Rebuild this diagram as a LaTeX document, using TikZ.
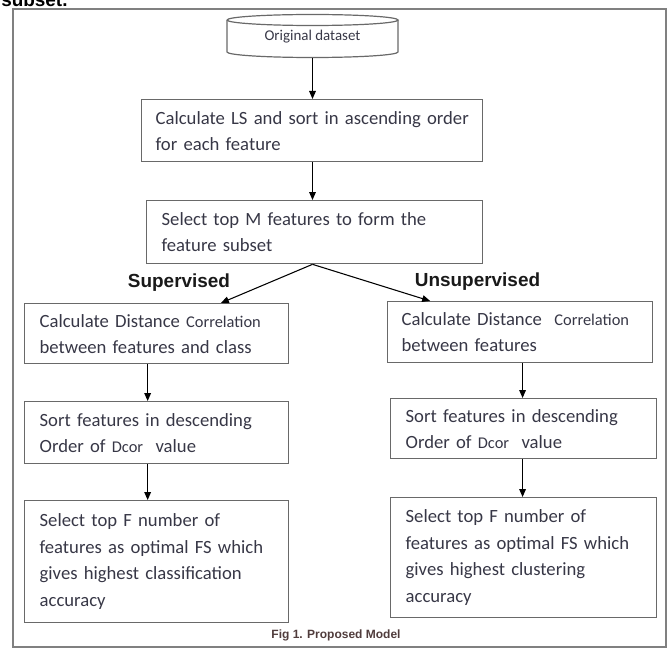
\documentclass[tikz,border=0pt]{standalone}
\usepackage{fontspec}
\setmainfont{Carlito}
\newfontfamily\arialf{Liberation Sans}
\usetikzlibrary{arrows.meta,calc}
\definecolor{boxgray}{RGB}{105,105,105}
\definecolor{framegray}{RGB}{128,128,128}
\definecolor{txt}{RGB}{55,55,70}
\definecolor{captxt}{RGB}{80,60,60}
\newcommand{\boxfont}{\fontsize{14pt}{19.5pt}\selectfont}
\newcommand{\smallcor}[1]{{\fontsize{12.3pt}{13pt}\selectfont #1}}
\tikzset{
  box/.style={draw=boxgray, line width=1pt, anchor=north west, align=left,
    inner ysep=0pt, font=\boxfont, text=txt},
  flow/.style={draw=black, line width=0.8pt, -{Triangle[length=6pt,width=5pt]}},
  branch/.style={font=\arialf\bfseries\fontsize{14.2pt}{16pt}\selectfont, text=black!90},
}
\begin{document}
\begin{tikzpicture}[x=0.75pt,y=-0.75pt]
\useasboundingbox (0,0) rectangle (670,649);
\clip (0,0) rectangle (670,649);
% partial page text above the frame
\node[anchor=base west, inner sep=0pt, font=\arialf\bfseries\fontsize{14.2pt}{16pt}\selectfont] (pagetxt) at (1,7) {subset.};
% outer frame
\draw[framegray, line width=1.5pt] (12.5,9.5) rectangle (665.5,647);
% cylinder
\node[minimum width=128.25pt, minimum height=31.875pt, inner sep=0pt,
  font=\fontsize{11.2pt}{13pt}\selectfont, text=txt] (cyl) at (312.5,36.25) {\raisebox{-2pt}{Original dataset}};
\draw[boxgray, line width=0.9pt] (227,20) arc[start angle=180, end angle=-180, x radius=85.5, y radius=5.5];
\draw[boxgray, line width=0.9pt] (227,20) -- (227,52) arc[start angle=180, end angle=0, x radius=85.5, y radius=5.5] -- (398,20);
% boxes
\node[box, minimum width=255.75pt, minimum height=46.5pt, inner xsep=10.5pt, text width=234.75pt] (b1) at (141,99)
  {\mbox{Calculate LS and sort in ascending order}\\for each feature};
\node[box, minimum width=252pt, minimum height=47.25pt, inner xsep=11.25pt, text width=229.5pt] (b2) at (146,200)
  {\mbox{Select top M features to form the}\\feature subset};
\node[box, minimum width=198pt, minimum height=45pt, inner xsep=11.25pt, text width=175.5pt] (l3) at (24,303)
  {\mbox{Calculate Distance \smallcor{Correlation}}\\between features and class};
\node[box, minimum width=198.75pt, minimum height=45.75pt, inner xsep=10.5pt, text width=177.75pt] (r3) at (387,301)
  {\mbox{Calculate Distance \ \smallcor{Correlation}}\\between features};
\node[box, minimum width=198pt, minimum height=46.5pt, inner xsep=11.25pt, text width=175.5pt] (l4) at (24,401)
  {Sort features in descending\\Order of \smallcor{Dcor} \ value};
\node[box, minimum width=199.5pt, minimum height=45pt, inner xsep=11.25pt, text width=177pt] (r4) at (390,398)
  {Sort features in descending\\Order of \smallcor{Dcor} \ value};
\node[box, minimum width=198pt, minimum height=91.5pt, inner xsep=11.25pt, text width=175.5pt,
  font=\fontsize{14pt}{20pt}\selectfont] (l5) at (24,500)
  {Select top F number of\\\mbox{features as optimal FS which}\\\mbox{gives highest classification}\\accuracy};
\node[box, minimum width=199.5pt, minimum height=90pt, inner xsep=11.25pt, text width=177pt,
  font=\fontsize{14pt}{20pt}\selectfont] (r5) at (390,497)
  {Select top F number of\\\mbox{features as optimal FS which}\\gives highest clustering\\accuracy};
% branch labels
\node[branch] (sup) at (179,283) {Supervised};
\node[branch] (unsup) at (477.5,282) {Unsupervised};
% caption
\node[font=\arialf\bfseries\fontsize{9pt}{11pt}\selectfont, text=captxt] (cap) at (336,635) {Fig 1. Proposed Model};
% connectors
\draw[flow] (cyl.south) -- (cyl.south |- b1.north);
\draw[flow] (cyl.south |- b1.south) -- (cyl.south |- b2.north);
\draw[flow] (cyl.south |- b2.south) -- ($(l3.north west)!0.742!(l3.north east)$);
\draw[flow] (cyl.south |- b2.south) -- ($(r3.north west)!0.162!(r3.north east)$);
\coordinate (lc) at ($(l3.south west)!0.466!(l3.south east)$);
\coordinate (rc) at ($(r3.south west)!0.509!(r3.south east)$);
\draw[flow] (lc) -- (lc |- l4.north);
\draw[flow] (lc |- l4.south) -- (lc |- l5.north);
\draw[flow] (rc) -- (rc |- r4.north);
\draw[flow] (rc |- r4.south) -- (rc |- r5.north);
\end{tikzpicture}
\end{document}
